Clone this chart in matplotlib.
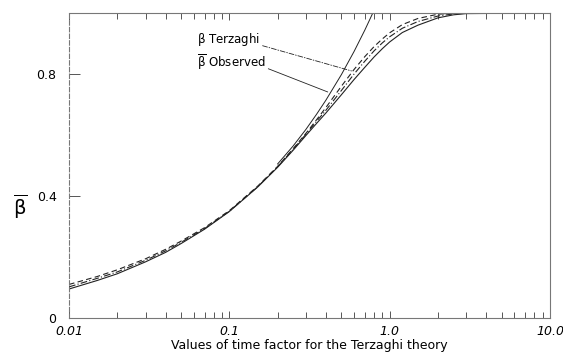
import matplotlib
matplotlib.use("Agg")
import matplotlib.pyplot as plt
from matplotlib.ticker import FixedLocator, NullFormatter

# time factor T and average degree of consolidation
t_vals = [0.01, 0.015, 0.02, 0.03, 0.04, 0.05, 0.07, 0.1, 0.15, 0.2, 0.25, 0.3, 0.35,
          0.4, 0.5, 0.6, 0.7, 0.8, 0.9, 1.0, 1.2, 1.5, 2.0, 2.5, 3.0, 10.0]
u_dashed = [0.110, 0.136, 0.158, 0.194, 0.225, 0.252, 0.296, 0.352, 0.432, 0.497, 0.555, 0.605, 0.650,
            0.690, 0.760, 0.815, 0.857, 0.890, 0.915, 0.935, 0.962, 0.982, 0.996, 0.999, 1.0, 1.0]
u_dashdot = [0.102, 0.130, 0.151, 0.189, 0.220, 0.248, 0.293, 0.350, 0.430, 0.496, 0.553, 0.602, 0.645,
             0.681, 0.746, 0.800, 0.842, 0.876, 0.902, 0.922, 0.950, 0.972, 0.990, 0.997, 0.999, 1.0]
u_solid = [0.095, 0.123, 0.145, 0.184, 0.215, 0.244, 0.291, 0.349, 0.429, 0.494, 0.550, 0.598, 0.638,
           0.672, 0.732, 0.782, 0.822, 0.856, 0.883, 0.905, 0.936, 0.960, 0.984, 0.994, 0.998, 1.0]

# early-time parabolic branch
t_par = [0.2, 0.25, 0.3, 0.35, 0.4, 0.5, 0.6, 0.7, 0.785]
u_par = [0.505, 0.564, 0.618, 0.668, 0.714, 0.798, 0.874, 0.944, 1.0]

xtick_vals = [0.01, 0.1, 1.0, 10.0]
xtick_labels = ['0.01', '0.1', '1.0', '10.0']
ytick_vals = [0, 0.4, 0.8]
ytick_labels = ['0', '0.4', '0.8']

fig = plt.figure(figsize=(5.63, 3.53), dpi=100)
ax = fig.add_axes([0.1226, 0.0992, 0.8543, 0.864])

lc = '#222222'
ax.plot(t_vals, u_dashed, color=lc, lw=0.8, ls=(0, (5, 3)))
ax.plot(t_vals, u_dashdot, color=lc, lw=0.8, ls=(0, (6, 2, 1, 2)))
ax.plot(t_vals, u_solid, color=lc, lw=0.8, ls='-')
ax.plot(t_par, u_par, color=lc, lw=0.7, ls='-')

ax.set_xscale('log')
ax.set_xlim(0.01, 10)
ax.set_ylim(0, 1.0)

ax.xaxis.set_major_locator(FixedLocator(xtick_vals))
ax.set_xticklabels(xtick_labels, fontstyle='italic', fontsize=9)
ax.xaxis.set_minor_formatter(NullFormatter())
ax.set_yticks(ytick_vals)
ax.set_yticklabels(ytick_labels, fontsize=9)

ax.tick_params(axis='x', which='both', direction='in', top=True, length=5, width=0.7,
               colors='#555555', labelcolor='black', pad=5)
ax.tick_params(axis='x', which='minor', length=4)
ax.tick_params(axis='y', direction='in', length=8, width=0.7, colors='#555555',
               labelcolor='black', pad=9)

for s in ax.spines.values():
    s.set_color('#777777')
    s.set_linewidth(0.8)
ax.spines['left'].set_linestyle((0, (4, 2)))

ax.set_xlabel('Values of time factor for the Terzaghi theory', fontsize=9, labelpad=1)
fig.text(20 / 563, 1 - 207 / 353, r'$\overline{\mathrm{β}}$', fontsize=14, ha='center', va='center')

ax.annotate(r'$\mathrm{β}$ Terzaghi', xy=(0.578, 0.81), xytext=(0.0627, 0.912),
            fontsize=8.5, va='center',
            arrowprops=dict(arrowstyle='-', color=lc, lw=0.6, ls=(0, (6, 2, 1, 2)),
                            shrinkA=0, shrinkB=0, relpos=(1.0, 0.2)))
ax.annotate(r'$\overline{\mathrm{β}}$ Observed', xy=(0.411, 0.741), xytext=(0.0627, 0.84),
            fontsize=8.5, va='center',
            arrowprops=dict(arrowstyle='-', color=lc, lw=0.6, shrinkA=0, shrinkB=0,
                            relpos=(1.0, 0.2)))

fig.savefig('out.png', dpi=100)
